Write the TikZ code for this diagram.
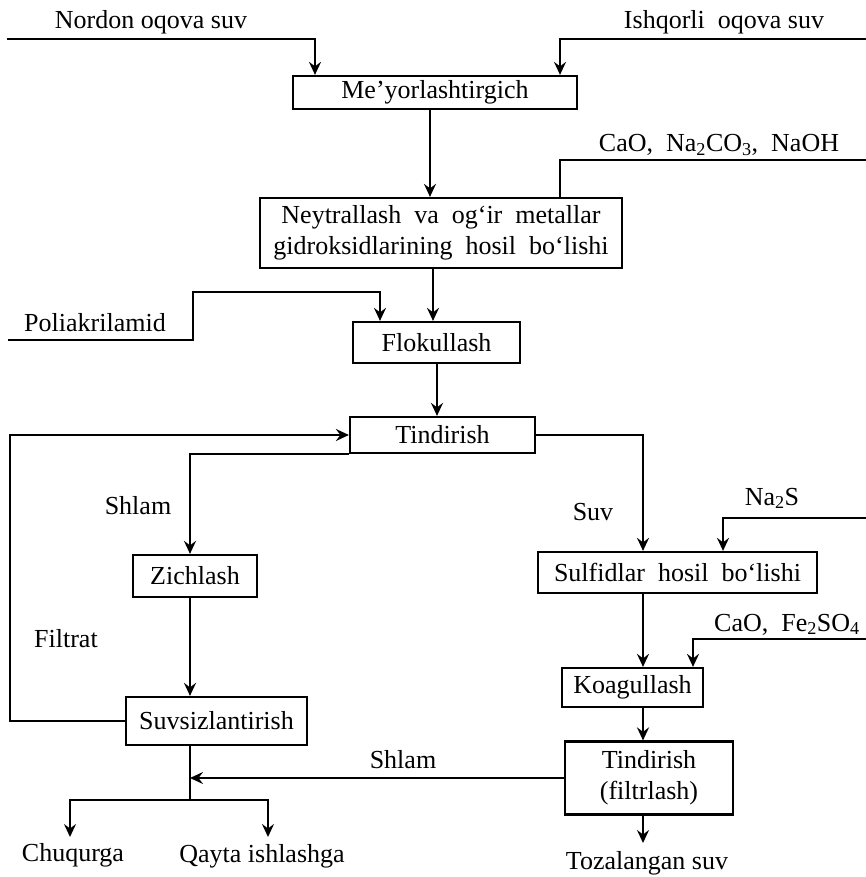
\documentclass[tikz,border=0pt]{standalone}
\usepackage{fontspec}
\setmainfont{Liberation Serif}
\usetikzlibrary{arrows.meta,calc}
\begin{document}
\begin{tikzpicture}[x=1pt,y=-1pt,
  every node/.style={font=\fontsize{26}{31}\selectfont},
  box/.style={draw,line width=2.2pt,inner sep=0pt,align=center},
  lbl/.style={inner sep=0pt},
  conn/.style={line width=2.2pt},
  arr/.style={conn,-{Stealth[length=13pt,width=12pt,inset=4.5pt]}}]
\useasboundingbox (0,0) rectangle (866,877);

% boxes
\node[box,minimum width=284pt,minimum height=33pt] (A) at (435,92.5) {Me’yorlashtirgich};
\node[box,minimum width=362pt,minimum height=70pt] (B) at (441,233) {Neytrallash\ \ va\ \ og‘ir\ \ metallar\\gidroksidlarining\ \ hosil\ \ bo‘lishi};
\node[box,minimum width=167pt,minimum height=41pt] (C) at (436.5,342.5) {Flokullash};
\node[box,minimum width=185pt,minimum height=36pt] (D) at (442.5,435) {Tindirish};
\node[box,minimum width=124pt,minimum height=42pt] (E) at (195,576) {Zichlash};
\node[box,minimum width=181pt,minimum height=48pt] (F) at (216.5,721) {Suvsizlantirish};
\node[box,minimum width=279pt,minimum height=41pt] (G) at (677.5,572.5) {Sulfidlar\ \ hosil\ \ bo‘lishi};
\node[box,minimum width=141pt,minimum height=39pt] (H) at (632.5,687.5) {Koagullash};
\node[box,minimum width=168pt,minimum height=73pt] (I) at (649,778) {Tindirish\\(filtrlash)};

% labels
\node[lbl,anchor=base] (tnordon) at (151,29) {Nordon oqova suv};
\node[lbl,anchor=base] (tishq) at (724,29) {Ishqorli\ \ oqova suv};
\node[lbl,anchor=base] (tcao1) at (719,152) {CaO,\ \ Na\textsubscript{2}CO\textsubscript{3},\ \ NaOH};
\node[lbl,anchor=base] (tpoli) at (95,331) {Poliakrilamid};
\node[lbl,anchor=base] (tshlam1) at (138,514) {Shlam};
\node[lbl,anchor=base] (tsuv) at (593,520) {Suv};
\node[lbl,anchor=base] (tna2s) at (772,505) {Na\textsubscript{2}S};
\node[lbl,anchor=base west] (tcao2) at (714,631) {CaO,\ \ Fe\textsubscript{2}SO\textsubscript{4}};
\node[lbl,anchor=base west] (tfilt) at (34,647) {Filtrat};
\node[lbl,anchor=base] (tshlam2) at (403,768) {Shlam};
\node[lbl,anchor=base] (tchuq) at (73,861) {Chuqurga};
\node[lbl,anchor=base] (tqayta) at (262,862) {Qayta ishlashga};
\node[lbl,anchor=base] (ttoza) at (647,869) {Tozalangan suv};

% helper coordinates
\coordinate (nordon0) at (7,39);
\coordinate (ishq0) at (866,39);
\coordinate (cao10) at (866,160);
\coordinate (poli0) at (8,340);
\coordinate (polia) at (193,340);
\coordinate (polib) at (193,292);
\coordinate (na2s0) at (866,518);
\coordinate (cao20) at (866,639);
\coordinate (loopx) at (10,0);
\coordinate (j) at (190,800);
\coordinate (out1) at (70,837);
\coordinate (out2) at (268,837);
\coordinate (out3) at (643,843);

% connectors
\draw[arr] (nordon0) -| (A.north -| 315,0);
\draw[arr] (ishq0) -| (A.north -| 560,0);
\draw[arr] (A.south -| 430,0) -- (B.north -| 430,0);
\draw[conn] (cao10) -| (B.north -| 560,0);
\draw[arr] (B.south -| 433,0) -- (C.north -| 433,0);
\draw[arr] (poli0) -- (polia) -- (polib) -| (C.north -| 380,0);
\draw[arr] (C.south -| 437,0) -- (D.north -| 437,0);
\draw[arr] (D.east) -| (G.north -| 643,0);
\draw[arr] (na2s0) -| (G.north -| 723,0);
\draw[arr] (D.south west) -| (E.north -| 190,0);
\draw[arr] (F.west) -| (loopx |- D.west) -- (D.west);
\draw[arr] (E.south -| 190,0) -- (F.north -| 190,0);
\draw[conn] (F.south -| 190,0) -- (j);
\draw[arr] (j) -| (out1);
\draw[arr] (j) -| (out2);
\draw[arr] (I.west) -- (I.west -| j);
\draw[arr] (G.south -| 643,0) -- (H.north -| 643,0);
\draw[arr] (cao20) -| (H.north -| 693,0);
\draw[arr] (H.south -| 643,0) -- (I.north -| 643,0);
\draw[arr] (I.south -| 643,0) -- (out3);
\end{tikzpicture}
\end{document}
